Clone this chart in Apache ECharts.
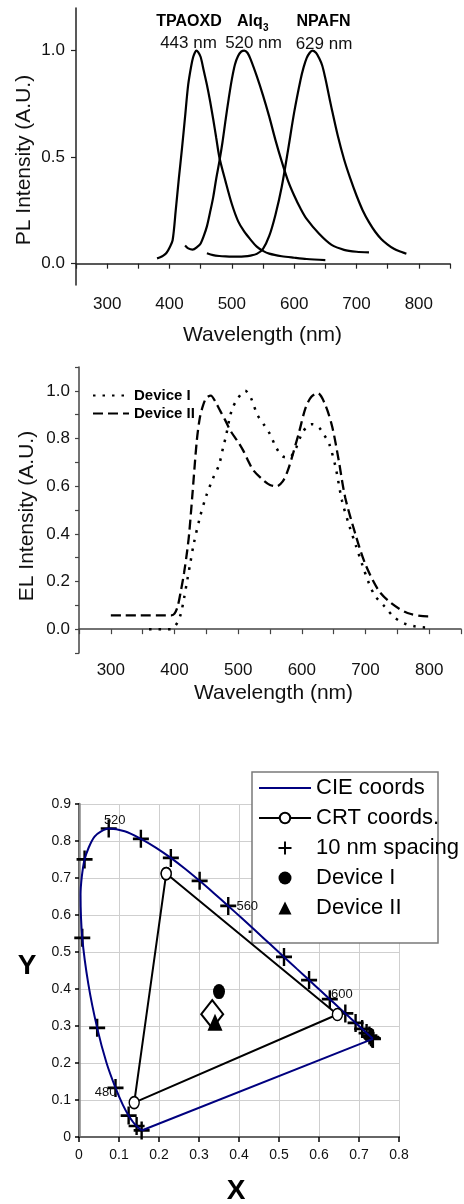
<!DOCTYPE html>
<html><head><meta charset="utf-8">
<script src="https://cdn.jsdelivr.net/npm/echarts@6/dist/echarts.min.js"></script>
<style>html,body{margin:0;padding:0;background:#fff}#c{width:464px;height:1204px}</style>
</head><body><div id="c"></div>
<script>
// ---------- PL spectra ----------
const tpaWl  = [380,385,390,395,400,405,410,415,420,425,430,435,438,441,443,446,450,455,460,465,470,475,480,490,500,510,520,530,540,550,560,580,600,620,650];
const tpaVal = [0.025,0.03,0.038,0.05,0.075,0.11,0.25,0.40,0.54,0.69,0.84,0.93,0.97,0.992,1.0,0.993,0.97,0.905,0.84,0.765,0.68,0.59,0.50,0.385,0.28,0.20,0.15,0.113,0.08,0.06,0.047,0.035,0.028,0.022,0.017];
const alqWl  = [425,430,437,445,450,455,460,465,470,475,480,485,490,495,500,505,510,515,520,525,530,540,550,560,570,580,590,600,610,620,640,660,680,700,720];
const alqVal = [0.085,0.072,0.066,0.08,0.095,0.13,0.175,0.24,0.31,0.40,0.48,0.57,0.675,0.775,0.865,0.935,0.975,0.995,1.0,0.99,0.96,0.88,0.79,0.69,0.58,0.48,0.39,0.32,0.26,0.21,0.14,0.088,0.065,0.056,0.053];
const npWl   = [460,470,480,490,500,510,520,530,540,550,560,570,580,590,600,610,615,620,625,629,635,640,645,650,655,660,670,680,690,700,710,720,730,740,750,760,770,780];
const npVal  = [0.049,0.04,0.036,0.034,0.033,0.033,0.034,0.038,0.046,0.07,0.13,0.23,0.36,0.53,0.71,0.86,0.92,0.965,0.99,1.0,0.99,0.965,0.93,0.87,0.80,0.73,0.60,0.49,0.40,0.32,0.25,0.195,0.15,0.115,0.09,0.07,0.057,0.047];

// ---------- EL spectra ----------
const d1Wl  = [360,370,380,390,395,400,405,410,415,420,425,430,440,450,460,470,477,480,490,500,511,520,530,540,550,560,570,580,590,600,610,617,627,635,643,653,663,675,685,695,705,715,730,745,760,775,790,800];
const d1Val = [0,0,0,0,0,0.01,0.03,0.065,0.13,0.205,0.28,0.355,0.47,0.56,0.63,0.69,0.77,0.80,0.92,0.97,1.0,0.97,0.90,0.86,0.818,0.76,0.725,0.72,0.755,0.82,0.855,0.86,0.846,0.815,0.777,0.68,0.54,0.43,0.35,0.27,0.195,0.14,0.095,0.05,0.025,0.013,0.008,0.007];
const d2Wl  = [300,320,340,360,380,395,400,405,410,415,420,423,428,435,440,445,450,457,465,472,480,488,500,508,515,524,540,550,560,570,578,586,596,606,615,625,637,648,658,668,684,699,720,740,766,797,800];
const d2Val = [0.058,0.058,0.058,0.058,0.058,0.058,0.065,0.096,0.16,0.236,0.33,0.40,0.56,0.79,0.89,0.94,0.97,0.98,0.95,0.915,0.875,0.832,0.785,0.749,0.71,0.666,0.624,0.605,0.599,0.62,0.666,0.735,0.83,0.93,0.975,0.99,0.94,0.846,0.707,0.554,0.40,0.278,0.165,0.11,0.068,0.054,0.054];

// ---------- CIE diagram ----------
const cieWl = [450,455,460,465,470,475,480,485,490,495,500,505,510,515,520,525,530,535,540,545,550,555,560,565,570,575,580,585,590,595,600,605,610,615,620,625,630,635,640,645,650,655,660,665,670,680,690,700];
const cieX  = [0.1566,0.1510,0.1440,0.1355,0.1241,0.1096,0.0913,0.0687,0.0454,0.0235,0.0082,0.0039,0.0139,0.0389,0.0743,0.1142,0.1547,0.1929,0.2296,0.2658,0.3016,0.3373,0.3731,0.4087,0.4441,0.4788,0.5125,0.5448,0.5752,0.6029,0.6270,0.6482,0.6658,0.6801,0.6915,0.7006,0.7079,0.7140,0.7190,0.7230,0.7260,0.7283,0.7300,0.7311,0.7320,0.7334,0.7344,0.7347];
const cieY  = [0.0177,0.0227,0.0297,0.0399,0.0578,0.0868,0.1327,0.2007,0.2950,0.4127,0.5384,0.6548,0.7502,0.8120,0.8338,0.8262,0.8059,0.7816,0.7543,0.7243,0.6923,0.6589,0.6245,0.5896,0.5547,0.5202,0.4866,0.4544,0.4242,0.3965,0.3725,0.3514,0.3340,0.3197,0.3083,0.2993,0.2920,0.2859,0.2809,0.2770,0.2740,0.2717,0.2700,0.2689,0.2680,0.2666,0.2656,0.2653];
const crtX = [0.218, 0.646, 0.138, 0.218];
const crtY = [0.712, 0.331, 0.093, 0.712];
const dev1 = [0.350, 0.393];
const dev2 = [0.340, 0.310];
const whitePt = [0.333, 0.332];
const labelWl = [480, 520, 560, 600];

const FONT = '"Liberation Sans", Arial, Helvetica, sans-serif';
const zip = (a, b) => a.map((v, i) => [v, b[i]]);
const PLUS = 'path://M6.8,0h2.4v6.8h6.8v2.4h-6.8v6.8h-2.4v-6.8h-6.8v-2.4h6.8z';
const TRI = 'path://M5,0L10,10L0,10Z';
const labelOffsets = {480: [-10, 5], 520: [6, -8], 560: [19, 0], 600: [12, -5]};

const locus = zip(cieX, cieY);
const last = cieX.length - 1;
const purpleLine = [[cieX[last], cieY[last]], [cieX[0], cieY[0]]];
const crosses = [];
const wlLabels = [];
cieWl.forEach((w, i) => {
  if (w % 10 !== 0) return;
  crosses.push([cieX[i], cieY[i]]);
  if (labelWl.indexOf(w) >= 0) {
    wlLabels.push({value: [cieX[i], cieY[i]],
      label: {show: true, formatter: String(w), position: 'inside', offset: labelOffsets[w],
              fontSize: 13, color: '#111', opacity: 1, fontFamily: FONT}});
  }
});

const axLine = (c, w) => ({show: true, lineStyle: {color: c, width: w}});
const chart = echarts.init(document.getElementById('c'), null, {renderer: 'canvas'});
const tickFmt100 = v => (Math.round(v) % 100 === 0 && v >= 300 && v <= 800) ? String(v) : '';
const txt = (x, y, text, font, fill, extra) => Object.assign({type: 'text', z: 6, x: x, y: y,
  style: {text: text, font: font, fill: fill || '#111', align: 'center', verticalAlign: 'middle', textAlign: 'center', textVerticalAlign: 'middle'}}, extra || {});

chart.setOption({
  animation: false,
  backgroundColor: '#fff',
  textStyle: {fontFamily: FONT},
  grid: [
    {left: 76, top: 8, width: 374, height: 277},
    {left: 79, top: 367, width: 388, height: 286},
    {left: 79, top: 804, width: 320, height: 333}
  ],
  xAxis: [
    {gridIndex: 0, type: 'value', min: 250, max: 850, interval: 50,
     axisLine: axLine('#222', 1.5), axisTick: {show: true, length: 5, lineStyle: {color: '#222', width: 1.2}},
     axisLabel: {interval: 0, formatter: tickFmt100, fontSize: 17, color: '#111', margin: 11},
     splitLine: {show: false}},
    {gridIndex: 1, type: 'value', min: 250, max: 850, interval: 50,
     axisLine: axLine('#444', 1.5), axisTick: {show: true, length: 5, lineStyle: {color: '#444', width: 1.2}},
     axisLabel: {interval: 0, formatter: tickFmt100, fontSize: 17, color: '#111', margin: 9},
     splitLine: {show: false}},
    {gridIndex: 2, type: 'value', min: 0, max: 0.8, interval: 0.1,
     axisLine: axLine('#000', 2), axisTick: {show: true, length: 5, lineStyle: {color: '#000', width: 1.5}},
     axisLabel: {fontSize: 14, color: '#111', margin: 11},
     splitLine: {show: true, lineStyle: {color: '#cfcfcf', width: 1}}},
    {gridIndex: 2, type: 'value', position: 'top', min: 0, max: 0.8,
     axisLine: axLine('#888', 1.5), axisTick: {show: false}, axisLabel: {show: false}, splitLine: {show: false}}
  ],
  yAxis: [
    {gridIndex: 0, type: 'value', min: -0.1, max: 1.2,
     axisLine: axLine('#222', 1.5),
     axisTick: {show: true, length: 5, customValues: [0, 0.5, 1.0], lineStyle: {color: '#222', width: 1.2}},
     axisLabel: {customValues: [0, 0.5, 1.0], formatter: v => v.toFixed(1), fontSize: 17, color: '#111', margin: 11},
     splitLine: {show: false}},
    {gridIndex: 1, type: 'value', min: -0.1, max: 1.1, interval: 0.1,
     axisLine: axLine('#444', 1.5), axisTick: {show: true, length: 4, lineStyle: {color: '#444', width: 1.2}},
     axisLabel: {interval: 0, fontSize: 17, color: '#111', margin: 9,
       formatter: v => { const k = Math.round(v * 10); return (k >= 0 && k <= 10 && k % 2 === 0) ? (k / 10).toFixed(1) : ''; }},
     splitLine: {show: false}},
    {gridIndex: 2, type: 'value', min: 0, max: 0.9, interval: 0.1,
     axisLine: axLine('#000', 2), axisTick: {show: true, length: 4, lineStyle: {color: '#000', width: 1.5}},
     axisLabel: {fontSize: 14, color: '#111', margin: 8},
     splitLine: {show: true, lineStyle: {color: '#cfcfcf', width: 1}}},
    {gridIndex: 2, type: 'value', position: 'right', min: 0, max: 0.9,
     axisLine: axLine('#888', 2.5), axisTick: {show: false}, axisLabel: {show: false}, splitLine: {show: false}}
  ],
  legend: [
    {data: ['Device I', 'Device II'], orient: 'vertical', left: 92, top: 388, padding: 0,
     itemWidth: 36, itemHeight: 10, itemGap: 3, selectedMode: false,
     itemStyle: {opacity: 0},
     textStyle: {fontSize: 15, fontWeight: 'bold', color: '#000', fontFamily: FONT}},
    {data: [
        {name: 'CIE coords', itemStyle: {opacity: 0}},
        'CRT coords.',
        '10 nm spacing',
        'Device I (CIE)',
        {name: 'Device II (CIE)', icon: TRI}
     ],
     orient: 'vertical', left: 252, top: 772, padding: [5, 6, 25, 6],
     itemWidth: 52, itemHeight: 13, itemGap: 8, selectedMode: false, symbolKeepAspect: true,
     formatter: n => n.replace(' (CIE)', ''),
     textStyle: {fontSize: 22, color: '#000', fontFamily: FONT}}
  ],
  graphic: [
    {type: 'rect', z: 3, shape: {x: 252, y: 772, width: 186, height: 171}, style: {fill: '#fff', stroke: '#7a7a7a', lineWidth: 1.5}},
    txt(189, 22, 'TPAOXD', 'bold 16px ' + FONT, '#000'),
    {type: 'text', z: 6, x: 237, y: 22, style: {text: 'Alq', font: 'bold 16px ' + FONT, fill: '#000', align: 'left', verticalAlign: 'middle', textAlign: 'left', textVerticalAlign: 'middle'}},
    {type: 'text', z: 6, x: 263, y: 28, style: {text: '3', font: 'bold 10px ' + FONT, fill: '#000', align: 'left', verticalAlign: 'middle', textAlign: 'left', textVerticalAlign: 'middle'}},
    txt(323.5, 22, 'NPAFN', 'bold 16px ' + FONT, '#000'),
    txt(188.5, 43, '443 nm', '17px ' + FONT),
    txt(253.5, 43, '520 nm', '17px ' + FONT),
    txt(324, 44, '629 nm', '17px ' + FONT),
    txt(24, 160, 'PL Intensity (A.U.)', '21px ' + FONT, null, {rotation: Math.PI / 2}),
    txt(262.5, 335, 'Wavelength (nm)', '21px ' + FONT),
    txt(27, 516, 'EL Intensity (A.U.)', '21px ' + FONT, null, {rotation: Math.PI / 2}),
    txt(273.5, 693, 'Wavelength (nm)', '21px ' + FONT),
    txt(27, 966, 'Y', 'bold 28px ' + FONT, '#000'),
    txt(236, 1191, 'X', 'bold 28px ' + FONT, '#000')
  ],
  series: [
    {type: 'line', name: 'TPAOXD', xAxisIndex: 0, yAxisIndex: 0, data: zip(tpaWl, tpaVal), symbol: 'none', smooth: 0.3, color: '#000', lineStyle: {color: '#000', width: 2.2}},
    {type: 'line', name: 'Alq3', xAxisIndex: 0, yAxisIndex: 0, data: zip(alqWl, alqVal), symbol: 'none', smooth: 0.3, color: '#000', lineStyle: {color: '#000', width: 2.2}},
    {type: 'line', name: 'NPAFN', xAxisIndex: 0, yAxisIndex: 0, data: zip(npWl, npVal), symbol: 'none', smooth: 0.3, color: '#000', lineStyle: {color: '#000', width: 2.2}},
    {type: 'line', name: 'Device I', xAxisIndex: 1, yAxisIndex: 1, data: zip(d1Wl, d1Val), symbol: 'none', smooth: 0.3, color: '#000', lineStyle: {color: '#000', width: 2.5, type: [2.5, 7]}},
    {type: 'line', name: 'Device II', xAxisIndex: 1, yAxisIndex: 1, data: zip(d2Wl, d2Val), symbol: 'none', smooth: 0.3, color: '#000', lineStyle: {color: '#000', width: 2.3, type: [10, 5]}},
    {type: 'line', name: 'CIE coords', xAxisIndex: 2, yAxisIndex: 2, data: locus, symbol: 'none', smooth: 0.25, color: '#00007f', lineStyle: {color: '#00007f', width: 2}},
    {type: 'line', name: 'CIE coords', xAxisIndex: 2, yAxisIndex: 2, data: purpleLine, symbol: 'none', smooth: false, color: '#00007f', lineStyle: {color: '#00007f', width: 2}},
    {type: 'line', name: 'CRT coords.', xAxisIndex: 2, yAxisIndex: 2, data: zip(crtX, crtY), symbol: 'circle', symbolSize: [10, 12], showSymbol: true,
     itemStyle: {color: '#fff', borderColor: '#000', borderWidth: 1.5, opacity: 1}, lineStyle: {color: '#000', width: 2}},
    {type: 'scatter', name: '10 nm spacing', xAxisIndex: 2, yAxisIndex: 2, data: crosses, symbol: PLUS, symbolSize: [16, 18], symbolKeepAspect: false, itemStyle: {color: '#000', opacity: 1}},
    {type: 'scatter', name: 'white point', xAxisIndex: 2, yAxisIndex: 2, data: [whitePt], symbol: 'diamond', symbolSize: [22, 28], itemStyle: {color: '#fff', borderColor: '#000', borderWidth: 2, opacity: 1}},
    {type: 'scatter', name: 'Device I (CIE)', xAxisIndex: 2, yAxisIndex: 2, data: [dev1], symbol: 'circle', symbolSize: [12, 15], itemStyle: {color: '#000', opacity: 1}},
    {type: 'scatter', name: 'Device II (CIE)', xAxisIndex: 2, yAxisIndex: 2, data: [dev2], symbol: 'triangle', symbolSize: [15, 17], itemStyle: {color: '#000', opacity: 1}},
    {type: 'scatter', name: 'wl labels', xAxisIndex: 2, yAxisIndex: 2, z: 6, data: wlLabels, symbol: 'circle', symbolSize: 1,
     itemStyle: {color: 'rgba(0,0,0,0)', opacity: 1}, silent: true}
  ]
});
</script></body></html>
